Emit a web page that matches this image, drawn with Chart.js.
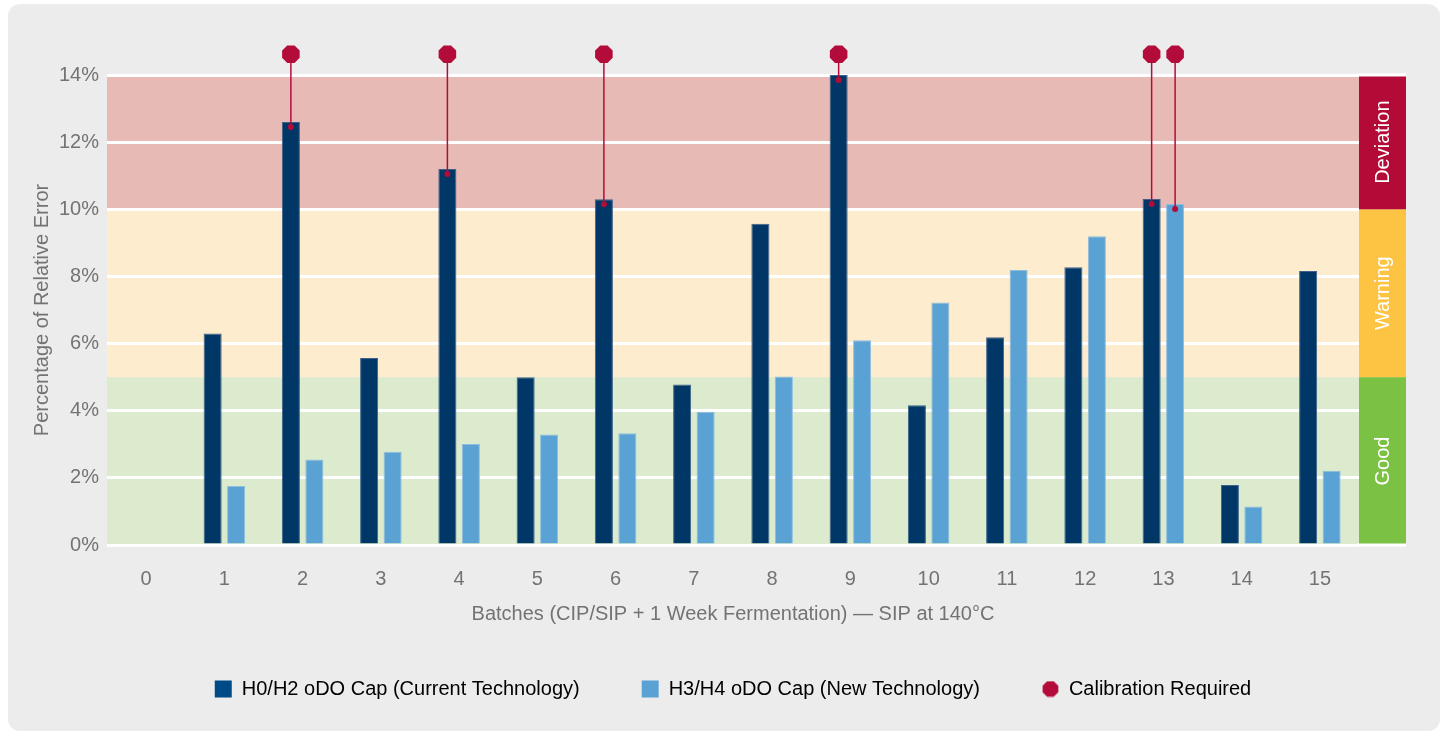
<!DOCTYPE html>
<html>
<head>
<meta charset="utf-8">
<script src="https://cdn.jsdelivr.net/npm/chart.js@4.4.1/dist/chart.umd.min.js"></script>
<style>
  html, body { margin: 0; padding: 0; background: #fff; width: 1447px; height: 733px; overflow: hidden; }
  #panel { position: absolute; left: 8px; top: 4px; width: 1432px; height: 727px; background: #ececec; border-radius: 12px; }
  #c { position: absolute; left: 0; top: 0; }
</style>
</head>
<body>
<div id="panel"></div>
<canvas id="c" width="1447" height="733"></canvas>
<script>
// Chart data.
const batches = ['0', '1', '2', '3', '4', '5', '6', '7', '8', '9', '10', '11', '12', '13', '14', '15'];
const currentTech = [null, 6.3, 12.6, 5.57, 11.2, 5.0, 10.3, 4.78, 9.57, 14.0, 4.16, 6.19, 8.27, 10.31, 1.79, 8.16];
const newTech = [null, 1.76, 2.55, 2.78, 3.01, 3.29, 3.33, 3.97, 5.02, 6.1, 7.22, 8.19, 9.2, 10.16, 1.15, 2.21];
// Bars that needed a calibration (batch index, series: 0 = current, 1 = new).
const calibBatches = [2, 4, 6, 9, 13, 13];
const calibSeries = [0, 0, 0, 0, 0, 1];
// Quality zones on the y axis (%).
const zoneNames = ['Good', 'Warning', 'Deviation'];
const zoneFrom = [0, 5, 10];
const zoneTo = [5, 10, 14];
const yTickValues = [0, 2, 4, 6, 8, 10, 12, 14];
const seriesNames = ['H0/H2 oDO Cap (Current Technology)', 'H3/H4 oDO Cap (New Technology)', 'Calibration Required'];

// Styles.
const textColor = '#737373';
const font = { family: "'Liberation Sans', Arial, sans-serif", size: 20 };
const darkBlue = '#003767';
const lightBlue = '#5aa1d4';
const calibRed = '#b30b3a';
const zoneFill = ['#dcebcd', '#feecce', '#e8bab5'];
const stripFill = ['#7bc144', '#fdc443', '#b30a38'];
const STRIP_W = 47;
const MARKER_LEVEL = 14.62; // y value where the calibration markers sit

// Draws an octagon centred on x, y.
function octagon(ctx, x, y, r) {
    ctx.beginPath();
    for (let k = 0; k < 8; k++) {
        const a = Math.PI / 8 + k * Math.PI / 4;
        const px = x + r * Math.cos(a), py = y + r * Math.sin(a);
        k === 0 ? ctx.moveTo(px, py) : ctx.lineTo(px, py);
    }
    ctx.closePath();
    ctx.fill();
}

// Small octagon image for the legend.
const octoIcon = document.createElement('canvas');
octoIcon.width = 17; octoIcon.height = 17;
(() => { const c = octoIcon.getContext('2d'); c.fillStyle = calibRed; octagon(c, 8.5, 8.5, 8.5); })();

// Background zones and the coloured strip on the right.
const zonesPlugin = {
    id: 'zones',
    beforeDraw(chart) {
        const { ctx, chartArea: a, scales: { y } } = chart;
        ctx.save();
        zoneNames.forEach((name, i) => {
            const top = y.getPixelForValue(zoneTo[i]);
            const bottom = y.getPixelForValue(zoneFrom[i]);
            ctx.fillStyle = zoneFill[i];
            ctx.fillRect(a.left, top, a.right - a.left, bottom - top);
            ctx.fillStyle = stripFill[i];
            ctx.fillRect(a.right, top, STRIP_W, bottom - top);
            ctx.save();
            ctx.translate(a.right + STRIP_W / 2, (top + bottom) / 2);
            ctx.rotate(-Math.PI / 2);
            ctx.fillStyle = '#fff';
            ctx.font = `${font.size}px ${font.family}`;
            ctx.textAlign = 'center';
            ctx.textBaseline = 'middle';
            ctx.fillText(name, 0, 1);
            ctx.restore();
        });
        ctx.restore();
    },
    beforeDatasetsDraw(chart) {
        // Top and bottom white lines run across the strip too.
        const { ctx, chartArea: a, scales: { y } } = chart;
        ctx.save();
        ctx.strokeStyle = '#fff';
        ctx.lineWidth = 3;
        [yTickValues[0], yTickValues[yTickValues.length - 1]].forEach(v => {
            const py = y.getPixelForValue(v);
            ctx.beginPath();
            ctx.moveTo(a.right - 2, py);
            ctx.lineTo(a.right + STRIP_W, py);
            ctx.stroke();
        });
        ctx.restore();
    }
};

// Calibration markers: octagon above the plot with a line down to the bar top.
const calibPlugin = {
    id: 'calib',
    afterDatasetsDraw(chart) {
        const { ctx, scales: { y } } = chart;
        const yTop = y.getPixelForValue(MARKER_LEVEL);
        ctx.save();
        ctx.strokeStyle = calibRed;
        ctx.fillStyle = calibRed;
        ctx.lineWidth = 1.5;
        calibBatches.forEach((b, k) => {
            const bar = chart.getDatasetMeta(calibSeries[k]).data[b];
            const yDot = bar.y + 5;
            ctx.beginPath();
            ctx.moveTo(bar.x, yTop);
            ctx.lineTo(bar.x, yDot);
            ctx.stroke();
            ctx.beginPath();
            ctx.arc(bar.x, yDot, 3, 0, Math.PI * 2);
            ctx.fill();
            octagon(ctx, bar.x, yTop, 9.5);
        });
        ctx.restore();
    }
};

const ctx = document.getElementById('c').getContext('2d');
new Chart(ctx, {
    type: 'bar',
    data: {
        labels: batches,
        datasets: [
            { label: seriesNames[0], data: currentTech, backgroundColor: darkBlue, borderColor: '#3d6189', borderWidth: 1 },
            { label: seriesNames[1], data: newTech, backgroundColor: lightBlue, borderColor: '#8fbde0', borderWidth: 1 }
        ]
    },
    options: {
        responsive: false,
        animation: false,
        categoryPercentage: 0.6,
        barPercentage: 0.77,
        layout: { padding: { left: 0, right: 88, top: 75, bottom: 24 } },
        scales: {
            x: {
                grid: { display: false },
                border: { display: false },
                ticks: { color: textColor, font: font, padding: 14, maxRotation: 0 },
                title: { display: true, text: 'Batches (CIP/SIP + 1 Week Fermentation) — SIP at 140°C', color: textColor, font: font, padding: { top: 0, bottom: -9 } },
                afterFit: s => { s.height = 72; }
            },
            y: {
                min: 0,
                max: 14,
                afterBuildTicks: s => { s.ticks = yTickValues.map(v => ({ value: v })); },
                ticks: { color: textColor, font: font, padding: 8, callback: v => v + '%' },
                grid: { color: '#fff', lineWidth: 3, drawTicks: false },
                border: { display: false },
                title: { display: true, text: 'Percentage of Relative Error', color: textColor, font: font, padding: { top: 30, bottom: 0 } },
                afterFit: s => { s.width = 107; }
            }
        },
        plugins: {
            tooltip: { enabled: false },
            legend: {
                position: 'bottom',
                fullSize: false,
                onClick: null,
                labels: {
                    usePointStyle: true,
                    boxWidth: 17,
                    boxHeight: 17,
                    padding: 62,
                    color: textColor,
                    font: font,
                    generateLabels: () => [
                        { text: seriesNames[0], fillStyle: '#004a87', strokeStyle: '#004a87', lineWidth: 0, pointStyle: 'rect', hidden: false },
                        { text: seriesNames[1], fillStyle: lightBlue, strokeStyle: lightBlue, lineWidth: 0, pointStyle: 'rect', hidden: false },
                        { text: seriesNames[2], fillStyle: calibRed, strokeStyle: calibRed, lineWidth: 0, pointStyle: octoIcon, hidden: false }
                    ]
                }
            }
        }
    },
    plugins: [zonesPlugin, calibPlugin]
});
</script>
</body>
</html>
